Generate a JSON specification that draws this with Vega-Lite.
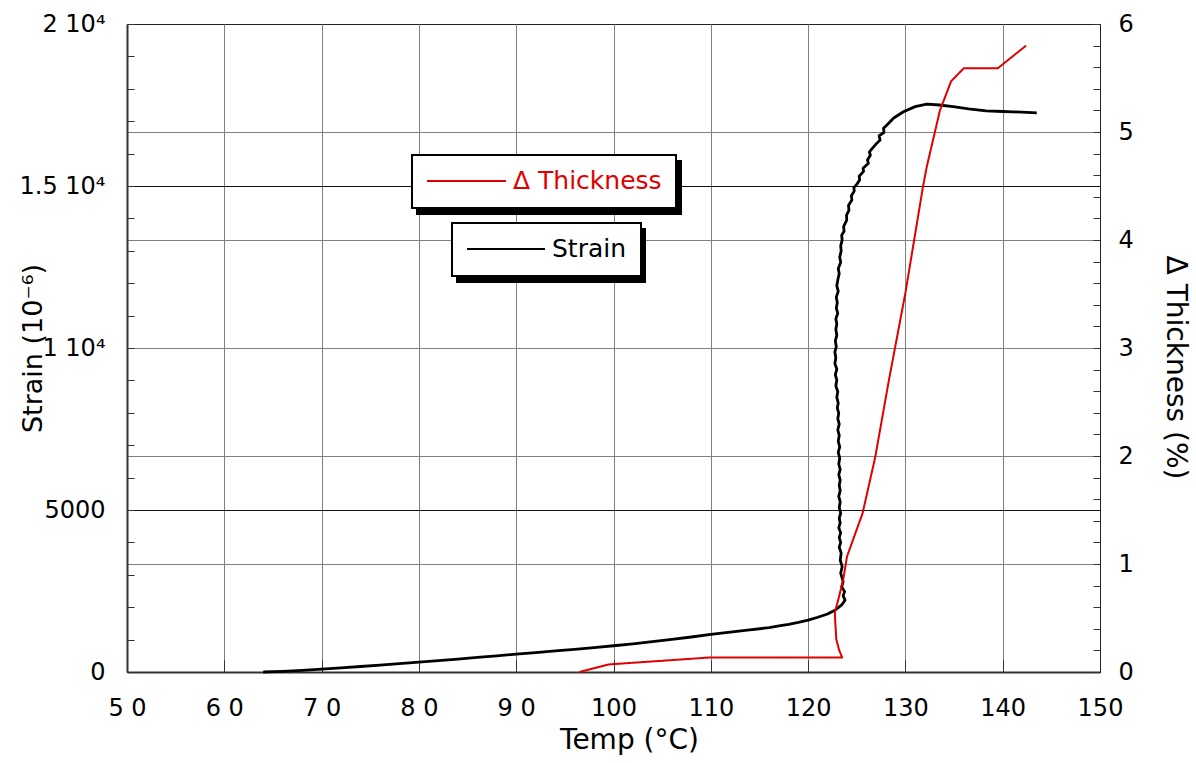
{
  "$schema": "https://vega.github.io/schema/vega-lite/v6.json",
  "width": 973,
  "height": 648,
  "autosize": "none",
  "padding": {"left": 127, "top": 24, "right": 96, "bottom": 91},
  "background": "white",
  "config": {
    "view": {"stroke": "#222", "strokeWidth": 1},
    "font": "DejaVu Sans",
    "axis": {
      "labelFont": "DejaVu Sans", "titleFont": "DejaVu Sans",
      "labelColor": "black", "titleColor": "black", "titleFontWeight": "normal",
      "labelFlush": false, "labelOverlap": false, "labelFontSize": 24,
      "domainColor": "#333", "domainWidth": 2, "tickColor": "#333", "tickWidth": 1
    },
    "legend": {"strokeWidth": 2}
  },
  "datasets": {
    "strain": [
      {"i":0,"T":64.0,"S":0},{"i":1,"T":66,"S":20},{"i":2,"T":68,"S":50},{"i":3,"T":70,"S":90},
      {"i":4,"T":72,"S":130},{"i":5,"T":74,"S":170},{"i":6,"T":76,"S":215},{"i":7,"T":78,"S":260},
      {"i":8,"T":80,"S":305},{"i":9,"T":82,"S":350},{"i":10,"T":84,"S":400},{"i":11,"T":86,"S":450},
      {"i":12,"T":88,"S":500},{"i":13,"T":90,"S":550},{"i":14,"T":92,"S":600},{"i":15,"T":94,"S":650},
      {"i":16,"T":96,"S":700},{"i":17,"T":98,"S":755},{"i":18,"T":100,"S":810},{"i":19,"T":102,"S":870},
      {"i":20,"T":104,"S":940},{"i":21,"T":106,"S":1010},{"i":22,"T":108,"S":1080},{"i":23,"T":110,"S":1160},
      {"i":24,"T":112,"S":1230},{"i":25,"T":114,"S":1300},{"i":26,"T":116,"S":1370},{"i":27,"T":117,"S":1420},
      {"i":28,"T":118,"S":1470},{"i":29,"T":119,"S":1530},{"i":30,"T":120,"S":1600},{"i":31,"T":121,"S":1690},
      {"i":32,"T":122,"S":1790},{"i":33,"T":122.8,"S":1914},
      {"i":34,"T":123.45,"S":2070},{"i":35,"T":123.8,"S":2220},{"i":36,"T":123.6,"S":2350},{"i":37,"T":123.75,"S":2480},
      {"i":38,"T":123.45,"S":2630},{"i":39,"T":123.6,"S":2780},{"i":40,"T":123.5,"S":2900},{"i":41,"T":123.35,"S":3050},
      {"i":42,"T":123.5,"S":3250},{"i":43,"T":123.3,"S":3450},{"i":44,"T":123.4,"S":3670},{"i":45,"T":123.2,"S":3850},
      {"i":46,"T":123.35,"S":4000},{"i":47,"T":123.2,"S":4150},{"i":48,"T":123.35,"S":4300},{"i":49,"T":123.15,"S":4450},
      {"i":50,"T":123.3,"S":4600},{"i":51,"T":123.2,"S":4750},{"i":52,"T":123.35,"S":4900},{"i":53,"T":123.2,"S":5080},
      {"i":54,"T":123.3,"S":5250},{"i":55,"T":123.15,"S":5420},{"i":56,"T":123.3,"S":5600},{"i":57,"T":123.2,"S":5760},
      {"i":58,"T":123.3,"S":5925},{"i":59,"T":123.15,"S":6090},{"i":60,"T":123.3,"S":6250},{"i":61,"T":123.15,"S":6420},
      {"i":62,"T":123.25,"S":6600},{"i":63,"T":123.1,"S":6780},{"i":64,"T":123.25,"S":6950},{"i":65,"T":123.1,"S":7120},
      {"i":66,"T":123.2,"S":7300},{"i":67,"T":123.05,"S":7470},{"i":68,"T":123.2,"S":7650},{"i":69,"T":123.05,"S":7820},
      {"i":70,"T":123.15,"S":7985},{"i":71,"T":123.0,"S":8150},{"i":72,"T":123.1,"S":8300},{"i":73,"T":122.95,"S":8480},
      {"i":74,"T":123.05,"S":8650},{"i":75,"T":122.85,"S":8830},{"i":76,"T":122.95,"S":9010},{"i":77,"T":122.8,"S":9180},
      {"i":78,"T":122.95,"S":9350},{"i":79,"T":122.75,"S":9520},{"i":80,"T":122.85,"S":9700},{"i":81,"T":122.75,"S":9870},
      {"i":82,"T":122.9,"S":10040},{"i":83,"T":122.8,"S":10220},{"i":84,"T":122.95,"S":10400},{"i":85,"T":122.85,"S":10570},
      {"i":86,"T":122.95,"S":10750},{"i":87,"T":122.85,"S":10900},{"i":88,"T":123.05,"S":11070},{"i":89,"T":122.9,"S":11230},
      {"i":90,"T":123.0,"S":11400},{"i":91,"T":122.9,"S":11570},{"i":92,"T":123.1,"S":11750},{"i":93,"T":122.95,"S":11920},
      {"i":94,"T":123.05,"S":12100},{"i":95,"T":123.2,"S":12300},{"i":96,"T":123.1,"S":12450},{"i":97,"T":123.35,"S":12650},
      {"i":98,"T":123.25,"S":12800},{"i":99,"T":123.4,"S":13000},{"i":100,"T":123.35,"S":13150},{"i":101,"T":123.5,"S":13330},
      {"i":102,"T":123.45,"S":13480},{"i":103,"T":123.7,"S":13600},{"i":104,"T":123.65,"S":13750},{"i":105,"T":123.97,"S":13950},
      {"i":106,"T":123.95,"S":14100},{"i":107,"T":124.2,"S":14250},{"i":108,"T":124.15,"S":14400},{"i":109,"T":124.5,"S":14570},
      {"i":110,"T":124.45,"S":14700},{"i":111,"T":124.75,"S":14850},{"i":112,"T":124.7,"S":14950},{"i":113,"T":125.0,"S":15050},
      {"i":114,"T":125.3,"S":15185},{"i":115,"T":125.25,"S":15300},{"i":116,"T":125.7,"S":15450},{"i":117,"T":125.65,"S":15550},
      {"i":118,"T":126.2,"S":15700},{"i":119,"T":126.1,"S":15800},{"i":120,"T":126.4,"S":15950},{"i":121,"T":126.3,"S":16050},
      {"i":122,"T":126.6,"S":16160},{"i":123,"T":127.0,"S":16300},{"i":124,"T":127.4,"S":16420},{"i":125,"T":127.3,"S":16550},
      {"i":126,"T":127.8,"S":16650},{"i":127,"T":127.75,"S":16780},{"i":128,"T":128.1,"S":16880},{"i":129,"T":128.8,"S":17100},
      {"i":130,"T":129.8,"S":17290},{"i":131,"T":131.0,"S":17450},{"i":132,"T":132.2,"S":17530},{"i":133,"T":133.5,"S":17500},
      {"i":134,"T":134.9,"S":17450},{"i":135,"T":136.5,"S":17380},{"i":136,"T":138.3,"S":17320},{"i":137,"T":140.0,"S":17300},
      {"i":138,"T":141.1,"S":17290},{"i":139,"T":142.5,"S":17270},{"i":140,"T":143.5,"S":17260}
    ],
    "thick": [
      {"i":0,"T":96.5,"D":0},{"i":1,"T":99.5,"D":0.07},{"i":2,"T":110,"D":0.135},{"i":3,"T":123.5,"D":0.135},
      {"i":4,"T":123.2,"D":0.2},{"i":5,"T":122.9,"D":0.3},{"i":6,"T":122.8,"D":0.45},{"i":7,"T":122.75,"D":0.55},
      {"i":8,"T":123.1,"D":0.67},{"i":9,"T":123.6,"D":0.85},{"i":10,"T":124.0,"D":1.07},{"i":11,"T":125.6,"D":1.47},
      {"i":12,"T":126.9,"D":1.99},{"i":13,"T":128.3,"D":2.7},{"i":14,"T":130.0,"D":3.51},{"i":15,"T":131.8,"D":4.49},
      {"i":16,"T":132.2,"D":4.68},{"i":17,"T":133.55,"D":5.2},{"i":18,"T":134.7,"D":5.47},{"i":19,"T":136.0,"D":5.59},
      {"i":20,"T":139.5,"D":5.59},{"i":21,"T":142.4,"D":5.8}
    ]
  },
  "layer": [
    {
      "data": {"name": "strain"},
      "mark": {"type": "line", "strokeWidth": 2.8, "strokeJoin": "round"},
      "encoding": {
        "x": {
          "field": "T", "type": "quantitative",
          "scale": {"domain": [50, 150], "nice": false, "zero": false},
          "axis": {
            "values": [50, 60, 70, 80, 90, 100, 110, 120, 130, 140, 150],
            "title": "Temp (°C)", "titleFontSize": 28,
            "titleX": 502, "titleY": 76, "titleBaseline": "alphabetic",
            "tickSize": -12, "labelPadding": 36,
            "grid": true, "gridColor": "#808080", "gridWidth": 1,
            "labelExpr": "length(datum.label) == 2 ? slice(datum.label, 0, 1) + ' ' + slice(datum.label, 1) : datum.label"
          }
        },
        "y": {
          "field": "S", "type": "quantitative",
          "scale": {"domain": [0, 20000], "nice": false},
          "axis": {
            "values": [0,1000,2000,3000,4000,5000,6000,7000,8000,9000,10000,11000,12000,13000,14000,15000,16000,17000,18000,19000,20000],
            "title": "Strain (10⁻⁶)", "titleFontSize": 27,
            "titleAngle": 270, "titleBaseline": "alphabetic", "titleX": -86, "titleY": 324,
            "tickSize": -7, "labelPadding": 29,
            "grid": true, "gridColor": "#111", "gridWidth": 1,
            "gridOpacity": {"condition": {"test": "datum.value % 5000 === 0 && datum.value > 0 && datum.value < 20000", "value": 1}, "value": 0},
            "labelExpr": "datum.value === 20000 ? '2 10⁴' : datum.value === 15000 ? '1.5 10⁴' : datum.value === 10000 ? '1 10⁴' : datum.value === 5000 ? '5000' : datum.value === 0 ? '0' : ''"
          }
        },
        "order": {"field": "i"},
        "stroke": {
          "datum": "Strain",
          "scale": {"domain": ["Strain"], "range": ["black"]},
          "legend": {
            "orient": "none", "legendX": 325, "legendY": 199, "title": null,
            "symbolType": "stroke", "symbolSize": 6084, "symbolStrokeWidth": 2,
            "clipHeight": 24, "padding": 14, "labelOffset": 6,
            "labelFontSize": 25, "labelFont": "DejaVu Sans", "labelColor": "black",
            "strokeColor": "black", "fillColor": "white", "zindex": 4
          }
        },
        "fill": {
          "datum": "B",
          "scale": {"domain": ["B"], "range": ["transparent"]},
          "legend": {
            "orient": "none", "legendX": 330, "legendY": 205, "title": null,
            "symbolType": "stroke", "symbolSize": 23104, "symbolStrokeWidth": 2, "symbolOpacity": 0,
            "clipHeight": 24, "padding": 14, "labelOffset": 6,
            "labelFontSize": 25, "labelFont": "DejaVu Sans", "labelOpacity": 0,
            "labelExpr": "''",
            "strokeColor": "black", "fillColor": "black", "zindex": 3
          }
        }
      }
    },
    {
      "data": {"name": "thick"},
      "mark": {"type": "line", "strokeWidth": 2, "strokeJoin": "round"},
      "encoding": {
        "x": {"field": "T", "type": "quantitative"},
        "y": {
          "field": "D", "type": "quantitative",
          "scale": {"domain": [0, 6], "nice": false},
          "axis": {
            "orient": "right",
            "values": [0,0.2,0.4,0.6,0.8,1,1.2,1.4,1.6,1.8,2,2.2,2.4,2.6,2.8,3,3.2,3.4,3.6,3.8,4,4.2,4.4,4.6,4.8,5,5.2,5.4,5.6,5.8,6],
            "title": "Δ Thickness (%)", "titleFontSize": 28,
            "titleAngle": 90, "titleBaseline": "alphabetic", "titleX": 66, "titleY": 343,
            "tickSize": -7, "labelPadding": 25, "domainWidth": 1, "domainColor": "#222",
            "grid": true, "gridColor": "#808080", "gridWidth": 1,
            "gridOpacity": {"condition": {"test": "abs(datum.value - round(datum.value)) < 0.001 && datum.value > 0 && datum.value < 6", "value": 1}, "value": 0},
            "labelExpr": "abs(datum.value - round(datum.value)) < 0.001 ? format(datum.value, 'd') : ''"
          }
        },
        "order": {"field": "i"},
        "color": {
          "datum": "Δ Thickness",
          "scale": {"domain": ["Δ Thickness"], "range": ["#e00000"]},
          "legend": {
            "orient": "none", "legendX": 285, "legendY": 131, "title": null,
            "symbolType": "stroke", "symbolSize": 6241, "symbolStrokeWidth": 2,
            "clipHeight": 24, "padding": 14, "labelOffset": 6,
            "labelFontSize": 25, "labelFont": "DejaVu Sans", "labelColor": "#e00000",
            "strokeColor": "black", "fillColor": "white", "zindex": 4
          }
        },
        "strokeDash": {
          "datum": "A",
          "scale": {"domain": ["A"], "range": [[1, 0]]},
          "legend": {
            "orient": "none", "legendX": 290, "legendY": 137, "title": null,
            "symbolType": "stroke", "symbolSize": 51800, "symbolStrokeWidth": 2, "symbolOpacity": 0,
            "clipHeight": 24, "padding": 14, "labelOffset": 6,
            "labelFontSize": 25, "labelFont": "DejaVu Sans", "labelOpacity": 0,
            "labelExpr": "''",
            "strokeColor": "black", "fillColor": "black", "zindex": 3
          }
        }
      }
    }
  ],
  "resolve": {"scale": {"y": "independent"}}
}
